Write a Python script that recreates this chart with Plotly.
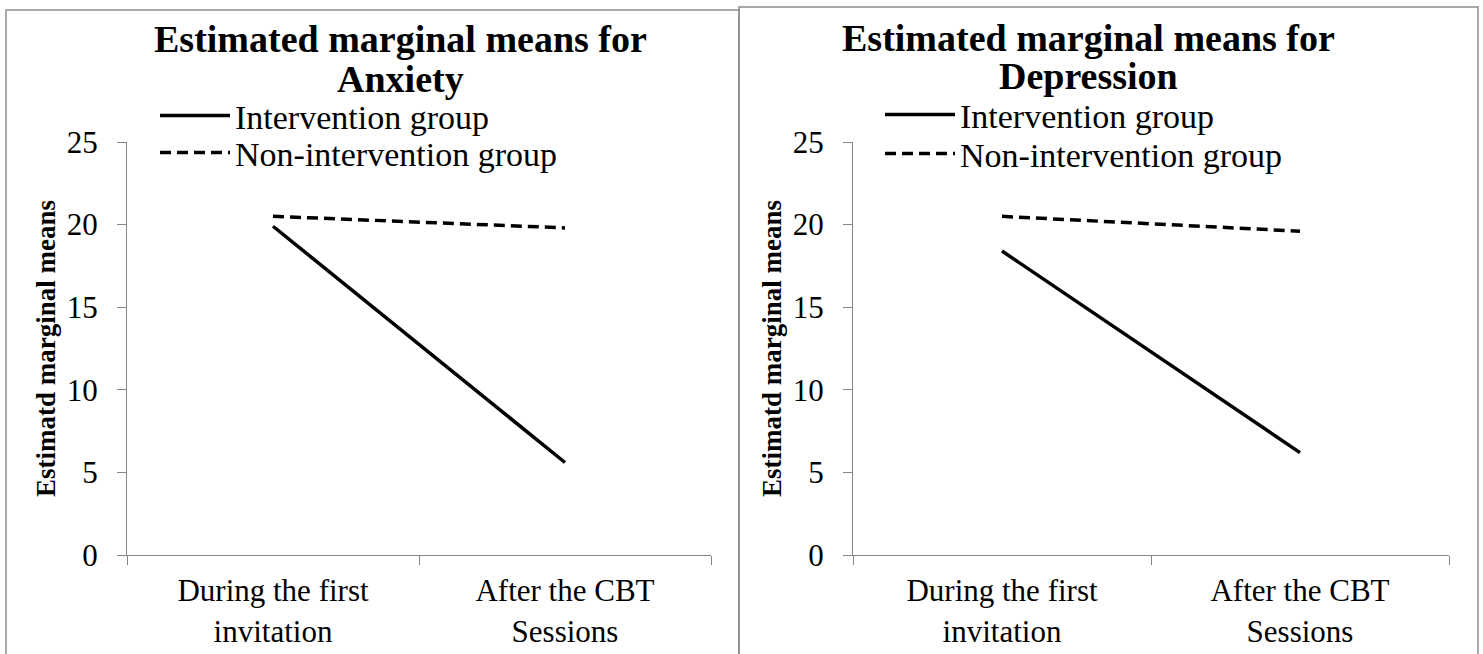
import plotly.graph_objects as go

# Time points and estimated marginal means per outcome
time_points = ["During the first<br>invitation", "After the CBT<br>Sessions"]
anxiety_intervention = [19.9, 5.6]
anxiety_control = [20.5, 19.8]
depression_intervention = [18.4, 6.2]
depression_control = [20.5, 19.6]

group_names = ["Intervention group", "Non-intervention group"]
title_lead = "Estimated marginal means for"
outcomes = ["Anxiety", "Depression"]
y_ticks = [0, 5, 10, 15, 20, 25]

W, H = 1483, 654
FONT = "Liberation Serif, Times New Roman, serif"
AXIS_GRAY = "#868686"


def px(v):
    return v / W


def py(v):
    return 1 - v / H


fig = go.Figure()

# each legend entry gets its own legend box so the rows can be placed freely
panels = [
    (anxiety_intervention, anxiety_control, "x", "y", "legend", "legend3"),
    (depression_intervention, depression_control, "x2", "y2", "legend2", "legend4"),
]
for inter, ctrl, xa, ya, lg_a, lg_b in panels:
    fig.add_trace(go.Scatter(
        x=time_points, y=inter, name=group_names[0], mode="lines",
        line=dict(color="black", width=3.5), xaxis=xa, yaxis=ya, legend=lg_a))
    fig.add_trace(go.Scatter(
        x=time_points, y=ctrl, name=group_names[1], mode="lines",
        line=dict(color="black", width=3.5, dash="11px,6px"),
        xaxis=xa, yaxis=ya, legend=lg_b))

x_common = dict(
    type="category", range=[-0.5, 1.5], tickson="boundaries",
    ticks="outside", ticklen=9, tickcolor=AXIS_GRAY, ticklabelstandoff=8,
    showline=True, linecolor=AXIS_GRAY, linewidth=1,
    showgrid=False, zeroline=False, automargin=False,
    tickfont=dict(family=FONT, size=31, color="black"),
    fixedrange=True,
)
y_common = dict(
    range=[0, 25], tickvals=y_ticks, ticks="outside", ticklen=9,
    tickcolor=AXIS_GRAY, ticklabelstandoff=13,
    showline=True, linecolor=AXIS_GRAY, linewidth=1,
    showgrid=False, zeroline=False, automargin=False,
    tickfont=dict(family=FONT, size=31, color="black"),
    title=dict(text="<b>Estimatd marginal means</b>",
               font=dict(family=FONT, size=27, color="black"), standoff=3),
    fixedrange=True,
)

legend_style = dict(xanchor="left", yanchor="middle", itemwidth=70,
                    bgcolor="rgba(0,0,0,0)", borderwidth=0,
                    font=dict(family=FONT, size=34, color="black"))

fig.update_layout(
    template="none",
    width=W, height=H,
    margin=dict(l=0, r=0, t=0, b=0, pad=0),
    paper_bgcolor="white", plot_bgcolor="white",
    xaxis=dict(domain=[px(127), px(711)], anchor="y", **x_common),
    yaxis=dict(domain=[py(555), py(142)], anchor="x", **y_common),
    xaxis2=dict(domain=[px(853), px(1449)], anchor="y2", **x_common),
    yaxis2=dict(domain=[py(555), py(142)], anchor="x2", **y_common),
    legend=dict(x=px(155), y=py(116), **legend_style),
    legend3=dict(x=px(155), y=py(153), **legend_style),
    legend2=dict(x=px(880), y=py(115), **legend_style),
    legend4=dict(x=px(880), y=py(154), **legend_style),
    showlegend=True,
)

# Panel titles, one annotation per line for a tighter line pitch
title_rows = [
    (400, 39, title_lead), (400, 79, outcomes[0]),
    (1088, 38, title_lead), (1088, 76, outcomes[1]),
]
for cx, cy, text in title_rows:
    fig.add_annotation(
        x=px(cx), y=py(cy), xref="paper", yref="paper",
        xanchor="center", yanchor="middle", showarrow=False,
        text=f"<b>{text}</b>", align="center",
        font=dict(family=FONT, size=38, color="black"))

# Panel frames
for x0, x1, top in [(6, 739, 10), (739, 1478, 7)]:
    fig.add_shape(type="rect", xref="paper", yref="paper",
                  x0=px(x0), x1=px(x1), y0=-0.1, y1=py(top),
                  line=dict(color="#8c8c8c", width=1.5),
                  fillcolor="rgba(0,0,0,0)", layer="below")

fig.write_html("out.html")
